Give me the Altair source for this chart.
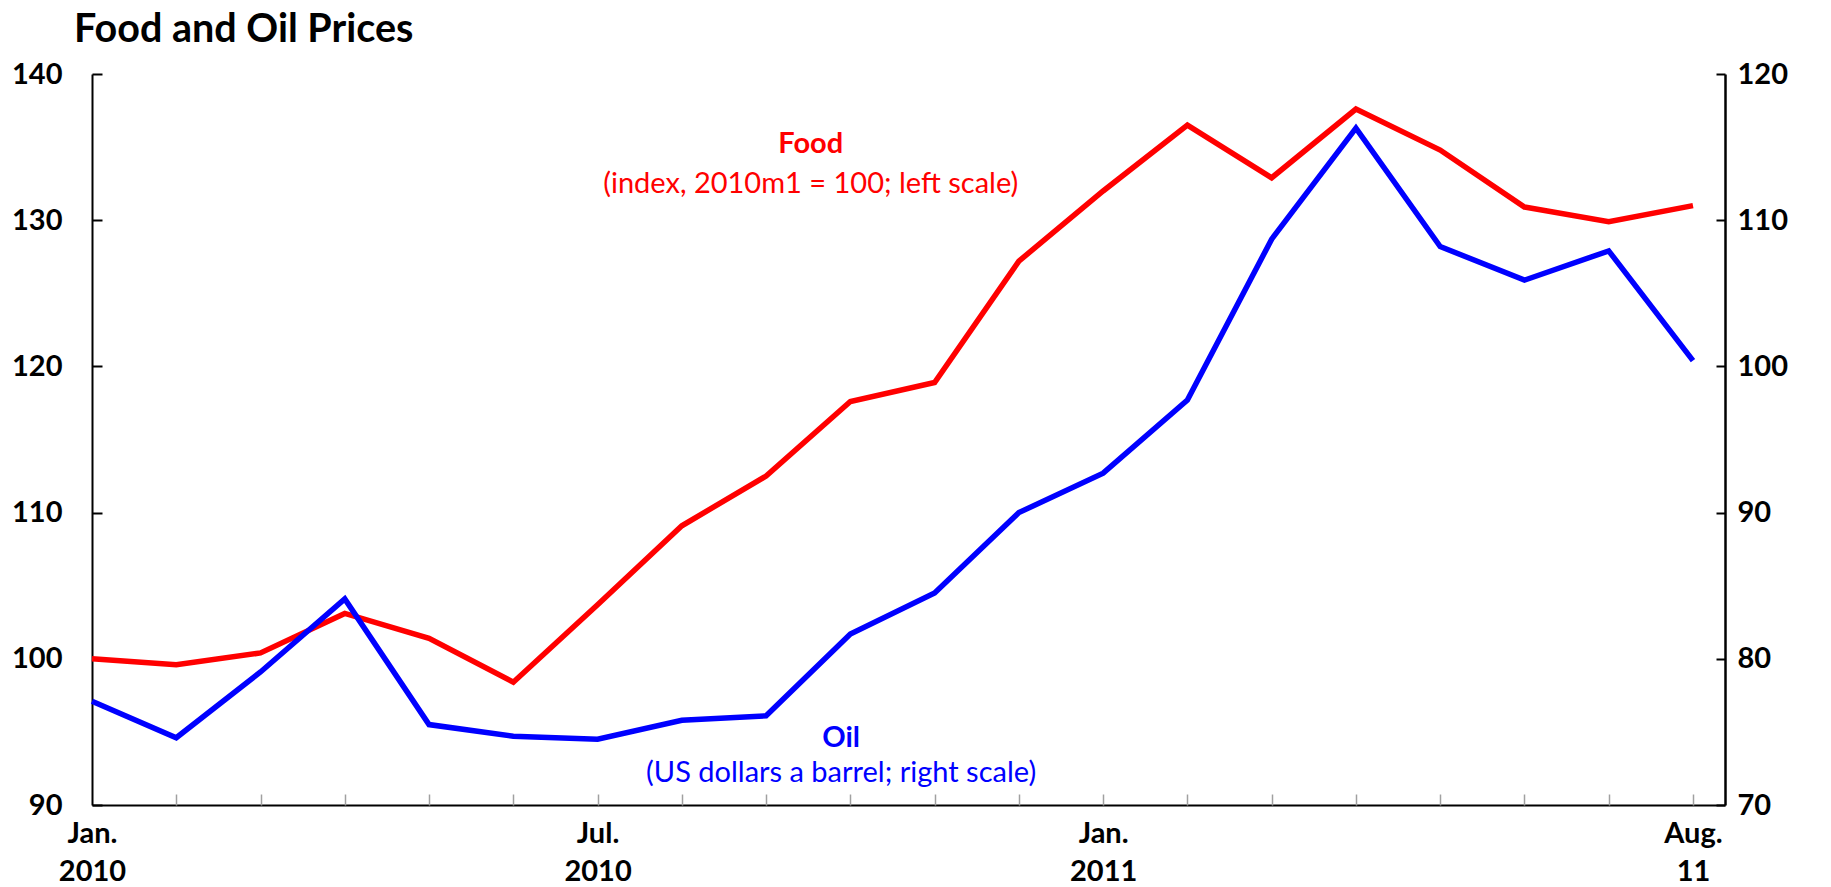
import altair as alt
import pandas as pd

# ---------------- data ----------------
month_index = list(range(20))
month_names = [
    "2010-01", "2010-02", "2010-03", "2010-04", "2010-05", "2010-06",
    "2010-07", "2010-08", "2010-09", "2010-10", "2010-11", "2010-12",
    "2011-01", "2011-02", "2011-03", "2011-04", "2011-05", "2011-06",
    "2011-07", "2011-08",
]
food_index = [100.0, 99.6, 100.4, 103.1, 101.4, 98.4, 103.7, 109.1, 112.5, 117.6,
              118.9, 127.2, 132.0, 136.5, 132.9, 137.6, 134.8, 130.9, 129.9, 131.0]
oil_price = [77.1, 74.6, 79.1, 84.1, 75.5, 74.7, 74.5, 75.8, 76.1, 81.7,
             84.5, 90.0, 92.7, 97.7, 108.7, 116.3, 108.2, 105.9, 107.9, 100.4]

tick_positions = [0, 6, 12, 19]
tick_line1 = ["Jan.", "Jul.", "Jan.", "Aug."]
tick_line2 = ["2010", "2010", "2011", "\u00a0\u00a0\u00a0\u00a0\u00a011"]

left_ticks = [90, 100, 110, 120, 130, 140]
right_ticks = [70, 80, 90, 100, 110, 120]

# annotation anchors in data units (month index, left-scale value)
food_note = {"title": "Food", "sub": "(index, 2010m1 = 100; left scale)",
             "x": 8.53, "y1": 135.2, "y2": 132.5}
oil_note = {"title": "Oil", "sub": "(US dollars a barrel; right scale)",
            "x": 8.89, "y1": 94.6, "y2": 92.2}

df = pd.DataFrame({"m": month_index, "month": month_names,
                   "food": food_index, "oil": oil_price})

# ---------------- styling ----------------
FONT = "Lato"
RED = "#FF0000"
BLUE = "#0000FF"
W, H = 1633, 731
X_DOMAIN = [0, 19.38]
FOOD_DOMAIN = [90, 140]
OIL_DOMAIN = [70, 120]
LABEL_SIZE = 29
NOTE_SIZE = 29

x_scale = alt.Scale(domain=X_DOMAIN, nice=False, zero=False)
food_scale = alt.Scale(domain=FOOD_DOMAIN, nice=False, zero=False)
oil_scale = alt.Scale(domain=OIL_DOMAIN, nice=False, zero=False)

label_expr = " : ".join(
    f"datum.value == {p} ? ['{a}', '{b}']"
    for p, a, b in zip(tick_positions, tick_line1, tick_line2)
) + " : ''"

x_main_axis = alt.Axis(
    orient="bottom",
    values=tick_positions, labelExpr=label_expr, tickSize=0, labelPadding=14,
    labelFont=FONT, labelFontSize=LABEL_SIZE, labelFontWeight="bold",
    labelColor="black", labelBaseline="top", labelLineHeight=38,
    labelFlush=False, labelOverlap=False, domainColor="black", domainWidth=2,
    grid=False, title=None,
)
x_tick_axis = alt.Axis(
    orient="bottom",
    values=list(range(1, 20)), offset=-11, tickSize=11, tickColor="#A0A0A0",
    tickWidth=1.5, labels=False, domain=False, grid=False, title=None,
)
left_main_axis = alt.Axis(
    orient="left", values=left_ticks, tickSize=0, labelPadding=30,
    labelFont=FONT, labelFontSize=LABEL_SIZE, labelFontWeight="bold",
    labelColor="black", labelOverlap=False, domainColor="black",
    domainWidth=2, grid=False, title=None,
)
left_tick_axis = alt.Axis(
    orient="left", values=left_ticks, offset=-10, tickSize=10, tickWidth=2,
    tickColor="black", labels=False, domain=False, grid=False, title=None,
)
right_main_axis = alt.Axis(
    orient="right", values=right_ticks, tickSize=0, labelPadding=12,
    labelFont=FONT, labelFontSize=LABEL_SIZE, labelFontWeight="bold",
    labelColor="black", labelOverlap=False, domainColor="black",
    domainWidth=2.5, grid=False, title=None,
)
right_tick_axis = alt.Axis(
    orient="right", values=right_ticks, offset=-9, tickSize=9, tickWidth=2,
    tickColor="black", labels=False, domain=False, grid=False, title=None,
)

base = alt.Chart(df)

food_line = base.mark_line(color=RED, strokeWidth=5.5).encode(
    x=alt.X("m:Q", scale=x_scale, axis=x_main_axis),
    y=alt.Y("food:Q", scale=food_scale, axis=left_main_axis),
)
food_ticks = base.mark_line(opacity=0).encode(
    x=alt.X("m:Q", scale=x_scale, axis=x_tick_axis),
    y=alt.Y("food:Q", scale=food_scale, axis=left_tick_axis),
)
oil_line = base.mark_line(color=BLUE, strokeWidth=5.5).encode(
    x=alt.X("m:Q", scale=x_scale, axis=None),
    y=alt.Y("oil:Q", scale=oil_scale, axis=right_main_axis),
)
oil_ticks = base.mark_line(opacity=0).encode(
    x=alt.X("m:Q", scale=x_scale, axis=None),
    y=alt.Y("oil:Q", scale=oil_scale, axis=right_tick_axis),
)


def note_layer(note, color):
    d = pd.DataFrame({
        "x": [note["x"], note["x"]],
        "y": [note["y1"], note["y2"]],
        "t": [note["title"], note["sub"]],
        "w": ["bold", "normal"],
    })
    c = alt.Chart(d)
    enc = dict(
        x=alt.X("x:Q", scale=x_scale, axis=None),
        y=alt.Y("y:Q", scale=food_scale, axis=None),
        text="t:N",
    )
    bold = c.transform_filter("datum.w == 'bold'").mark_text(
        font=FONT, fontSize=NOTE_SIZE, fontWeight="bold", color=color,
        align="center", baseline="middle").encode(**enc)
    normal = c.transform_filter("datum.w == 'normal'").mark_text(
        font=FONT, fontSize=NOTE_SIZE, fontWeight="normal", color=color,
        align="center", baseline="middle").encode(**enc)
    return [bold, normal]


layers = [food_line, food_ticks, oil_ticks, oil_line] + \
    note_layer(food_note, RED) + note_layer(oil_note, BLUE)

chart = alt.layer(*layers).resolve_scale(
    y="independent"
).resolve_axis(
    x="independent", y="independent"
).properties(
    width=W, height=H,
    title=alt.TitleParams(
        "Food and Oil Prices", anchor="start", frame="group", dx=-18,
        offset=10, font=FONT, fontSize=39.5, fontWeight="bold", color="black",
    ),
    autosize=alt.AutoSizeParams(type="none"),
    padding={"left": 84, "top": 66, "right": 90, "bottom": 82},
).configure_view(stroke=None)

chart.save("out.html", embed_options={"renderer": "svg", "actions": False})
